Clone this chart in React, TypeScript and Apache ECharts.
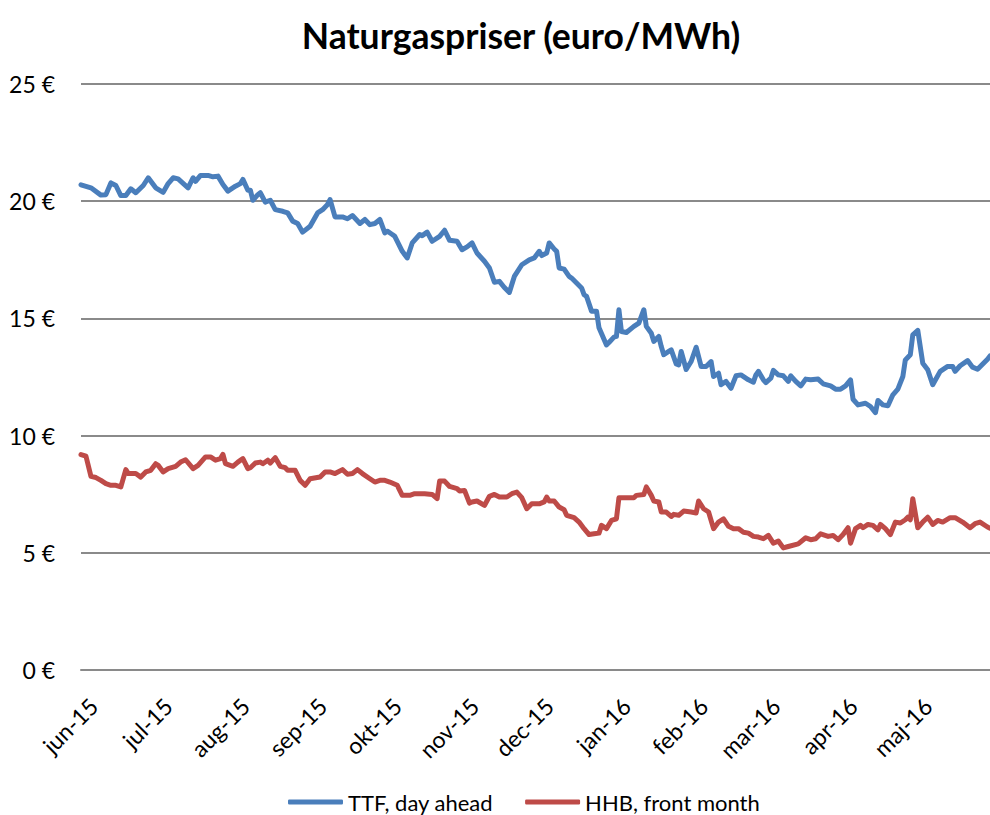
import React, { useEffect, useRef } from 'react';
import * as echarts from 'echarts';

const chartTitle = 'Naturgaspriser (euro/MWh)';
const seriesNames = ['TTF, day ahead', 'HHB, front month'];
const monthLabels = ['jan', 'feb', 'mar', 'apr', 'maj', 'jun', 'jul', 'aug', 'sep', 'okt', 'nov', 'dec'];
const firstDay = '2015-06-01';
const lastDay = '2016-05-31';
const yMin = 0;
const yMax = 25;
const yStep = 5;

const ttfDates = [
  '2015-06-01', '2015-06-05', '2015-06-09', '2015-06-11', '2015-06-13', '2015-06-15', '2015-06-17', '2015-06-19',
  '2015-06-21', '2015-06-23', '2015-06-26', '2015-06-28', '2015-07-01', '2015-07-04', '2015-07-06', '2015-07-08',
  '2015-07-10', '2015-07-14', '2015-07-16', '2015-07-17', '2015-07-19', '2015-07-22', '2015-07-24', '2015-07-26',
  '2015-07-28', '2015-07-30', '2015-08-02', '2015-08-04', '2015-08-05', '2015-08-07', '2015-08-08', '2015-08-09',
  '2015-08-11', '2015-08-12', '2015-08-14', '2015-08-16', '2015-08-18', '2015-08-21', '2015-08-23', '2015-08-25',
  '2015-08-27', '2015-08-29', '2015-09-01', '2015-09-04', '2015-09-06', '2015-09-08', '2015-09-09', '2015-09-11',
  '2015-09-14', '2015-09-16', '2015-09-18', '2015-09-21', '2015-09-23', '2015-09-25', '2015-09-27', '2015-09-29',
  '2015-10-01', '2015-10-02', '2015-10-04', '2015-10-05', '2015-10-08', '2015-10-10', '2015-10-12', '2015-10-15',
  '2015-10-16', '2015-10-18', '2015-10-20', '2015-10-23', '2015-10-25', '2015-10-27', '2015-10-30', '2015-11-01',
  '2015-11-03', '2015-11-05', '2015-11-07', '2015-11-10', '2015-11-12', '2015-11-14', '2015-11-16', '2015-11-18',
  '2015-11-20', '2015-11-22', '2015-11-25', '2015-11-28', '2015-11-30', '2015-12-02', '2015-12-03', '2015-12-05',
  '2015-12-06', '2015-12-08', '2015-12-09', '2015-12-10', '2015-12-12', '2015-12-14', '2015-12-15', '2015-12-17',
  '2015-12-19', '2015-12-20', '2015-12-21', '2015-12-23', '2015-12-25', '2015-12-26', '2015-12-29', '2015-12-30',
  '2016-01-01', '2016-01-02', '2016-01-03', '2016-01-04', '2016-01-06', '2016-01-09', '2016-01-11', '2016-01-13',
  '2016-01-14', '2016-01-16', '2016-01-17', '2016-01-19', '2016-01-20', '2016-01-21', '2016-01-23', '2016-01-24',
  '2016-01-26', '2016-01-27', '2016-01-28', '2016-01-30', '2016-02-01', '2016-02-03', '2016-02-05', '2016-02-07',
  '2016-02-09', '2016-02-10', '2016-02-12', '2016-02-13', '2016-02-15', '2016-02-17', '2016-02-19', '2016-02-21',
  '2016-02-24', '2016-02-26', '2016-02-27', '2016-02-28', '2016-03-01', '2016-03-02', '2016-03-04', '2016-03-05',
  '2016-03-07', '2016-03-09', '2016-03-11', '2016-03-12', '2016-03-14', '2016-03-16', '2016-03-18', '2016-03-20',
  '2016-03-23', '2016-03-25', '2016-03-28', '2016-03-30', '2016-04-01', '2016-04-03', '2016-04-05', '2016-04-06',
  '2016-04-08', '2016-04-11', '2016-04-13', '2016-04-15', '2016-04-16', '2016-04-18', '2016-04-20', '2016-04-22',
  '2016-04-24', '2016-04-26', '2016-04-27', '2016-04-29', '2016-04-30', '2016-05-02', '2016-05-04', '2016-05-06',
  '2016-05-08', '2016-05-11', '2016-05-14', '2016-05-16', '2016-05-17', '2016-05-19', '2016-05-22', '2016-05-24',
  '2016-05-26', '2016-05-30', '2016-05-31',
];
const ttfValues = [
  20.7, 20.57, 20.26, 20.28, 20.78, 20.67, 20.24, 20.24,
  20.53, 20.36, 20.67, 21.0, 20.57, 20.38, 20.75, 21.0,
  20.95, 20.57, 21.0, 20.85, 21.1, 21.1, 21.04, 21.07,
  20.71, 20.43, 20.64, 20.75, 20.93, 20.47, 20.47, 20.04,
  20.28, 20.36, 19.96, 20.04, 19.64, 19.57, 19.5, 19.15,
  19.05, 18.68, 18.93, 19.5, 19.64, 19.86, 20.07, 19.33,
  19.33, 19.25, 19.39, 19.05, 19.22, 19.0, 19.05, 19.22,
  18.65, 18.72, 18.58, 18.5, 17.86, 17.58, 18.22, 18.58,
  18.53, 18.68, 18.29, 18.5, 18.76, 18.33, 18.29, 17.93,
  18.05, 18.22, 17.79, 17.44, 17.15, 16.54, 16.58, 16.32,
  16.11, 16.79, 17.29, 17.5, 17.58, 17.86, 17.68, 17.79,
  18.22, 17.96, 17.86, 17.15, 17.1, 16.79, 16.72, 16.51,
  16.3, 16.01, 15.94, 15.31, 15.31, 14.6, 13.87, 13.97,
  14.2, 14.23, 15.37, 14.44, 14.4, 14.66, 14.8, 15.37,
  14.66, 14.37, 14.02, 14.23, 13.8, 13.45, 13.59, 13.66,
  13.06, 13.02, 13.59, 12.82, 13.16, 13.77, 12.95, 12.95,
  13.16, 12.52, 12.66, 12.17, 12.31, 12.02, 12.55, 12.59,
  12.38, 12.28, 12.59, 12.74, 12.38, 12.26, 12.45, 12.78,
  12.59, 12.55, 12.31, 12.55, 12.31, 12.12, 12.41, 12.38,
  12.41, 12.21, 12.12, 11.98, 11.98, 12.12, 12.38, 11.55,
  11.31, 11.38, 11.24, 10.98, 11.5, 11.31, 11.27, 11.74,
  11.98, 12.52, 13.23, 13.45, 14.3, 14.49, 13.09, 12.81,
  12.17, 12.74, 12.95, 12.95, 12.74, 12.98, 13.2, 12.92,
  12.83, 13.26, 13.4,
];

const hhbDates = [
  '2015-06-01', '2015-06-03', '2015-06-05', '2015-06-07', '2015-06-09', '2015-06-11', '2015-06-13', '2015-06-15',
  '2015-06-17', '2015-06-19', '2015-06-20', '2015-06-23', '2015-06-25', '2015-06-27', '2015-06-29', '2015-07-01',
  '2015-07-02', '2015-07-04', '2015-07-06', '2015-07-09', '2015-07-11', '2015-07-13', '2015-07-16', '2015-07-18',
  '2015-07-21', '2015-07-23', '2015-07-25', '2015-07-27', '2015-07-28', '2015-07-29', '2015-08-01', '2015-08-03',
  '2015-08-05', '2015-08-07', '2015-08-08', '2015-08-10', '2015-08-12', '2015-08-13', '2015-08-15', '2015-08-16',
  '2015-08-18', '2015-08-20', '2015-08-22', '2015-08-23', '2015-08-26', '2015-08-28', '2015-08-30', '2015-09-01',
  '2015-09-05', '2015-09-07', '2015-09-09', '2015-09-11', '2015-09-14', '2015-09-16', '2015-09-18', '2015-09-20',
  '2015-09-22', '2015-09-25', '2015-09-27', '2015-09-29', '2015-10-01', '2015-10-03', '2015-10-06', '2015-10-08',
  '2015-10-11', '2015-10-13', '2015-10-17', '2015-10-20', '2015-10-22', '2015-10-23', '2015-10-25', '2015-10-27',
  '2015-10-30', '2015-10-31', '2015-11-02', '2015-11-04', '2015-11-05', '2015-11-07', '2015-11-10', '2015-11-12',
  '2015-11-14', '2015-11-16', '2015-11-19', '2015-11-21', '2015-11-23', '2015-11-25', '2015-11-27', '2015-11-29',
  '2015-12-02', '2015-12-04', '2015-12-05', '2015-12-06', '2015-12-08', '2015-12-10', '2015-12-12', '2015-12-13',
  '2015-12-16', '2015-12-18', '2015-12-20', '2015-12-22', '2015-12-24', '2015-12-26', '2015-12-27', '2015-12-29',
  '2015-12-31', '2016-01-02', '2016-01-03', '2016-01-05', '2016-01-09', '2016-01-10', '2016-01-13', '2016-01-14',
  '2016-01-16', '2016-01-17', '2016-01-19', '2016-01-20', '2016-01-22', '2016-01-24', '2016-01-25', '2016-01-27',
  '2016-01-29', '2016-02-01', '2016-02-03', '2016-02-04', '2016-02-06', '2016-02-08', '2016-02-10', '2016-02-12',
  '2016-02-14', '2016-02-16', '2016-02-18', '2016-02-20', '2016-02-22', '2016-02-24', '2016-02-26', '2016-02-28',
  '2016-03-01', '2016-03-03', '2016-03-05', '2016-03-07', '2016-03-09', '2016-03-11', '2016-03-15', '2016-03-18',
  '2016-03-20', '2016-03-22', '2016-03-24', '2016-03-27', '2016-03-29', '2016-03-31', '2016-04-02', '2016-04-04',
  '2016-04-05', '2016-04-07', '2016-04-09', '2016-04-10', '2016-04-12', '2016-04-14', '2016-04-16', '2016-04-17',
  '2016-04-19', '2016-04-21', '2016-04-23', '2016-04-25', '2016-04-27', '2016-04-28', '2016-04-29', '2016-04-30',
  '2016-05-02', '2016-05-04', '2016-05-06', '2016-05-08', '2016-05-10', '2016-05-12', '2016-05-15', '2016-05-17',
  '2016-05-20', '2016-05-23', '2016-05-25', '2016-05-27', '2016-05-30', '2016-05-31',
];
const hhbValues = [
  9.19, 9.12, 8.26, 8.21, 8.09, 7.95, 7.88, 7.88,
  7.81, 8.55, 8.38, 8.38, 8.23, 8.45, 8.52, 8.8,
  8.73, 8.45, 8.59, 8.69, 8.87, 8.97, 8.59, 8.73,
  9.09, 9.09, 8.95, 9.02, 9.2, 8.8, 8.69, 8.87,
  9.02, 8.59, 8.63, 8.83, 8.87, 8.8, 8.95, 8.83,
  9.06, 8.69, 8.63, 8.52, 8.52, 8.09, 7.88, 8.16,
  8.23, 8.45, 8.45, 8.38, 8.55, 8.35, 8.38, 8.55,
  8.38, 8.16, 8.02, 8.09, 8.09, 8.02, 7.88, 7.45,
  7.45, 7.52, 7.52, 7.49, 7.31, 8.06, 8.06, 7.83,
  7.74, 7.64, 7.66, 7.12, 7.17, 7.21, 7.02, 7.41,
  7.49, 7.38, 7.38, 7.52, 7.59, 7.35, 6.88, 7.09,
  7.09, 7.17, 7.38, 7.21, 7.21, 6.95, 6.84, 6.6,
  6.5, 6.31, 6.03, 5.78, 5.81, 5.84, 6.17, 6.03,
  6.38, 6.45, 7.35, 7.35, 7.35, 7.45, 7.49, 7.81,
  7.45, 7.21, 7.17, 6.74, 6.74, 6.55, 6.64, 6.6,
  6.78, 6.74, 6.7, 7.21, 6.88, 6.74, 6.03, 6.31,
  6.45, 6.13, 6.03, 6.03, 5.88, 5.84, 5.7, 5.67,
  5.6, 5.74, 5.41, 5.5, 5.21, 5.27, 5.38, 5.64,
  5.56, 5.6, 5.81, 5.7, 5.74, 5.56, 5.78, 6.07,
  5.41, 6.03, 6.17, 6.07, 6.21, 6.17, 5.98, 6.21,
  6.03, 5.78, 6.31, 6.27, 6.41, 6.52, 6.41, 7.31,
  6.07, 6.31, 6.52, 6.21, 6.38, 6.31, 6.5, 6.5,
  6.31, 6.07, 6.24, 6.31, 6.1, 6.05,
];

const pad = (n: number) => (n < 10 ? '0' + n : '' + n);

function buildDayCategories(from: string, to: string): string[] {
  const out: string[] = [];
  const d = new Date(from + 'T00:00:00Z');
  const end = new Date(to + 'T00:00:00Z').getTime();
  while (d.getTime() <= end) {
    out.push(d.getUTCFullYear() + '-' + pad(d.getUTCMonth() + 1) + '-' + pad(d.getUTCDate()));
    d.setUTCDate(d.getUTCDate() + 1);
  }
  return out;
}

const zip = (dates: string[], values: number[]) => dates.map((d, i) => [d, values[i]]);

export default function App() {
  const ref = useRef<HTMLDivElement>(null);

  useEffect(() => {
    if (!ref.current) return;
    const chart = echarts.init(ref.current, null, { renderer: 'svg' });
    const days = buildDayCategories(firstDay, lastDay);
    const font = 'Lato, "Noto Sans", sans-serif';
    const gridColor = '#8a8a8a';

    chart.setOption({
      animation: false,
      backgroundColor: '#ffffff',
      textStyle: { fontFamily: font, color: '#000' },
      title: {
        text: chartTitle,
        left: 516,
        top: 12,
        textAlign: 'center',
        textStyle: { fontFamily: font, fontSize: 35.5, fontWeight: 'bold', color: '#000' },
      },
      legend: {
        bottom: -3,
        left: 283,
        itemGap: 32,
        itemWidth: 55,
        itemHeight: 5,
        icon: 'roundRect',
        textStyle: { fontFamily: font, fontSize: 22, color: '#000' },
        data: seriesNames,
      },
      grid: { left: 81, right: -3, top: 84, bottom: 145, containLabel: false },
      xAxis: {
        type: 'category',
        data: days,
        boundaryGap: false,
        axisLine: { show: true, lineStyle: { color: gridColor, width: 2 } },
        axisTick: { show: false },
        splitLine: { show: false },
        axisLabel: {
          rotate: 45,
          margin: 32,
          fontSize: 23,
          fontFamily: font,
          color: '#000',
          interval: (_index: number, value: string) => value.slice(8) === '06',
          formatter: (value: string) => monthLabels[Number(value.slice(5, 7)) - 1] + '-' + value.slice(2, 4),
        },
      },
      yAxis: {
        type: 'value',
        min: yMin,
        max: yMax,
        interval: yStep,
        axisLine: { show: false },
        axisTick: { show: false },
        splitLine: { show: true, lineStyle: { color: gridColor, width: 2 } },
        axisLabel: {
          margin: 26,
          fontSize: 23,
          fontFamily: font,
          color: '#000',
          formatter: (v: number) => v + ' €',
        },
      },
      series: [
        {
          name: seriesNames[0],
          type: 'line',
          data: zip(ttfDates, ttfValues),
          symbol: 'none',
          color: '#4A7EBB',
          lineStyle: { width: 5, color: '#4A7EBB', cap: 'round', join: 'round' },
          z: 3,
        },
        {
          name: seriesNames[1],
          type: 'line',
          data: zip(hhbDates, hhbValues),
          symbol: 'none',
          color: '#BE4B48',
          lineStyle: { width: 5, color: '#BE4B48', cap: 'round', join: 'round' },
          z: 3,
        },
      ],
    });

    return () => chart.dispose();
  }, []);

  return (
    <div
      ref={ref}
      style={{ position: 'absolute', left: 0, top: 0, width: 990, height: 815 }}
    />
  );
}
